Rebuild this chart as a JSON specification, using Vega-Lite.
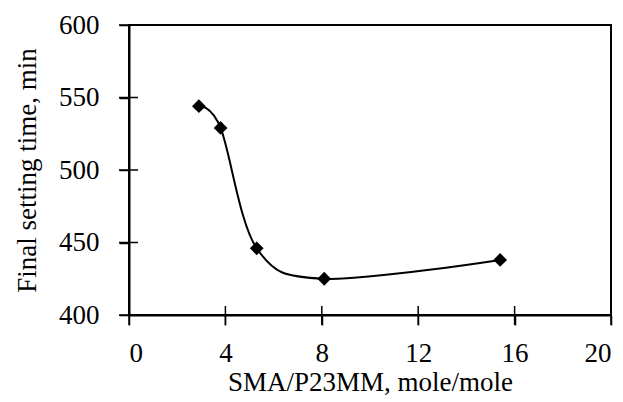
{
  "$schema": "https://vega.github.io/schema/vega-lite/v6.json",
  "width": 482,
  "height": 290,
  "autosize": "none",
  "padding": {"left": 129, "top": 25, "right": 12, "bottom": 87},
  "background": "white",
  "config": {
    "font": "Times New Roman",
    "view": {"stroke": "black", "strokeWidth": 2},
    "axis": {
      "grid": false,
      "domainColor": "black",
      "domainWidth": 2,
      "tickColor": "black",
      "tickWidth": 1.5,
      "labelColor": "black",
      "titleColor": "black",
      "labelFont": "Times New Roman",
      "titleFont": "Times New Roman",
      "labelFontSize": 27,
      "titleFontSize": 27,
      "titleFontWeight": "normal"
    }
  },
  "datasets": {
    "points": [
      {"x": 2.9, "y": 544},
      {"x": 3.8, "y": 529},
      {"x": 5.3, "y": 446},
      {"x": 8.1, "y": 425},
      {"x": 15.4, "y": 438}
    ],
    "xticks": [{"v": 0}, {"v": 4}, {"v": 8}, {"v": 12}, {"v": 16}, {"v": 20}],
    "yticks": [{"v": 400}, {"v": 450}, {"v": 500}, {"v": 550}, {"v": 600}]
  },
  "layer": [
    {
      "data": {"name": "points"},
      "mark": {"type": "line", "interpolate": "cardinal", "color": "black", "strokeWidth": 2},
      "encoding": {
        "x": {
          "field": "x", "type": "quantitative",
          "scale": {"domain": [0, 20], "nice": false, "zero": false},
          "axis": {"orient": "bottom", "values": [0, 4, 8, 12, 16, 20], "tickSize": 10, "labelPadding": 15, "title": "SMA/P23MM, mole/mole", "titlePadding": 3}
        },
        "y": {
          "field": "y", "type": "quantitative",
          "scale": {"domain": [400, 600], "nice": false, "zero": false},
          "axis": {"orient": "left", "values": [400, 450, 500, 550, 600], "tickSize": 10, "labelPadding": 20, "title": "Final setting time, min", "titlePadding": 17}
        }
      }
    },
    {
      "data": {"name": "points"},
      "mark": {"type": "point", "shape": "diamond", "filled": true, "color": "black", "size": 190, "opacity": 1},
      "encoding": {
        "x": {"field": "x", "type": "quantitative"},
        "y": {"field": "y", "type": "quantitative"}
      }
    },
    {
      "data": {"name": "yticks"},
      "mark": {"type": "rule", "color": "black", "strokeWidth": 1.5, "clip": false, "xOffset": -10, "x2Offset": 9},
      "encoding": {
        "x": {"datum": 0, "type": "quantitative"},
        "x2": {"datum": 0},
        "y": {"field": "v", "type": "quantitative"}
      }
    },
    {
      "data": {"name": "xticks"},
      "mark": {"type": "rule", "color": "black", "strokeWidth": 1.5, "clip": false, "yOffset": -9, "y2Offset": 10},
      "encoding": {
        "x": {"field": "v", "type": "quantitative"},
        "y": {"datum": 400, "type": "quantitative"},
        "y2": {"datum": 400}
      }
    }
  ]
}
